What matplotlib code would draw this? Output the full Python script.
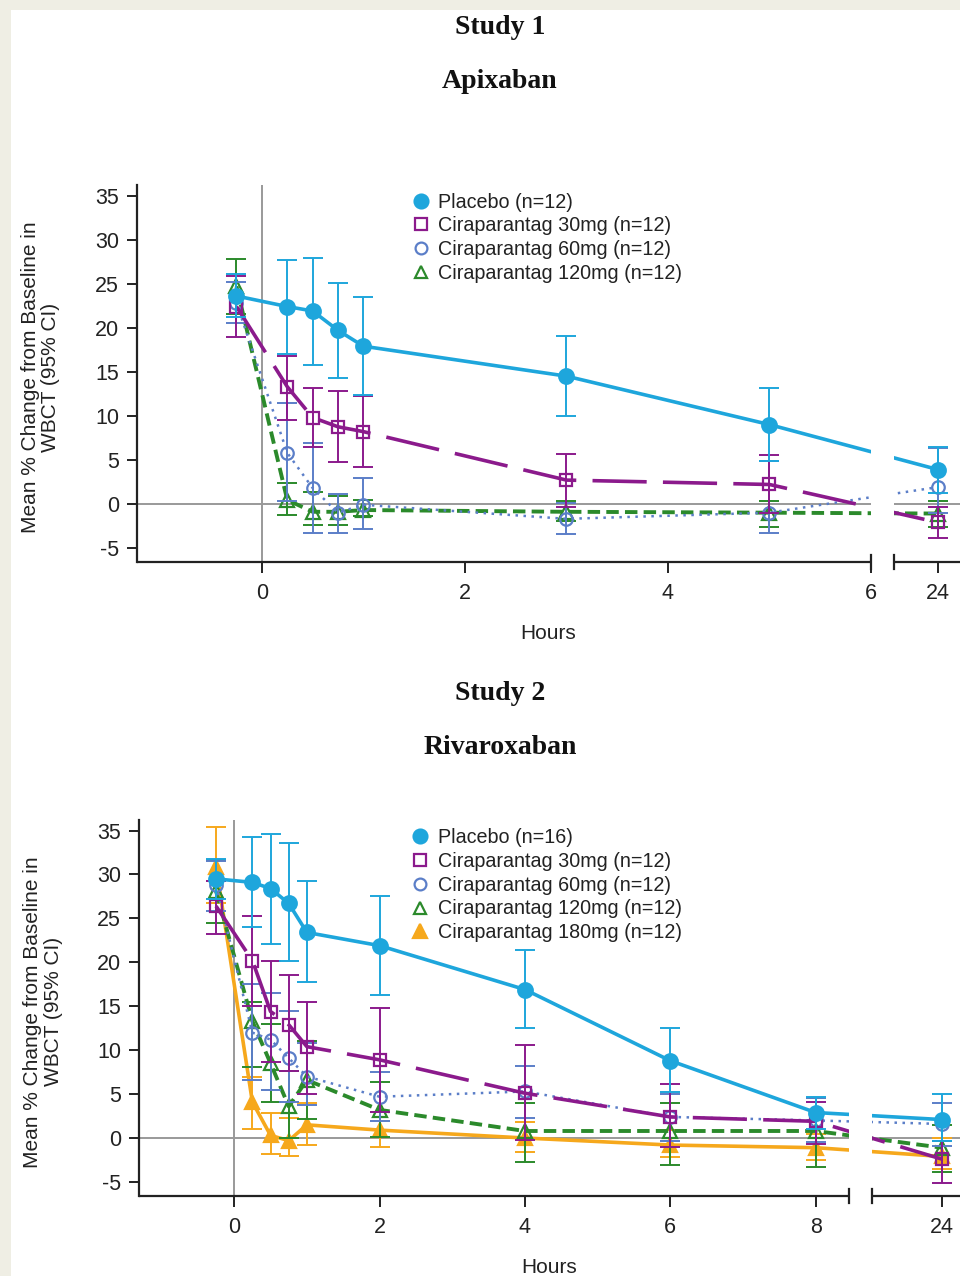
import numpy as np
import matplotlib
matplotlib.use('Agg')
import matplotlib.pyplot as plt
from matplotlib.lines import Line2D
from matplotlib.patches import Rectangle

plt.rcParams['font.family'] = ['Liberation Sans', 'DejaVu Sans']
plt.rcParams['axes.unicode_minus'] = False

# colours of the groups
C_PLA = '#1ea6dc'
C_30 = '#8b1a8c'
C_60 = '#5b7ec8'
C_120 = '#2b8a2b'
C_180 = '#f6a81c'

# ---- Study 1, apixaban ----
t1 = [-0.25, 0.25, 0.5, 0.75, 1, 3, 5, 24]

pla1 = [23.6, 22.4, 21.9, 19.7, 17.9, 14.5, 9.0, 3.9]
pla1_lo = [21.2, 17.0, 15.8, 14.3, 12.4, 10.0, 4.9, 1.2]
pla1_hi = [26.1, 27.7, 27.9, 25.1, 23.5, 19.1, 13.2, 6.5]

c30_1 = [22.4, 13.3, 9.8, 8.75, 8.2, 2.7, 2.2, -2.1]
c30_1_lo = [19.0, 9.5, 6.5, 4.7, 4.2, -0.3, -1.0, -3.9]
c30_1_hi = [25.9, 16.8, 13.2, 12.8, 12.3, 5.7, 5.5, -0.3]

c60_1 = [22.8, 5.8, 1.8, -1.0, -0.1, -1.7, -1.0, 1.9]
c60_1_lo = [20.5, 0.3, -3.3, -3.3, -2.9, -3.4, -3.3, -1.0]
c60_1_hi = [25.2, 11.5, 6.9, 1.1, 2.9, 0.1, 4.9, 6.3]

c120_1 = [24.7, 0.45, -0.9, -0.9, -0.7, -0.9, -1.0, -1.1]
c120_1_lo = [21.5, -1.25, -2.4, -2.4, -1.4, -2.0, -2.6, -2.6]
c120_1_hi = [27.8, 2.4, 1.4, 0.9, 0.45, 0.3, 0.3, 0.3]

labels1 = ['Placebo (n=12)', 'Ciraparantag 30mg (n=12)',
           'Ciraparantag 60mg (n=12)', 'Ciraparantag 120mg (n=12)']

# ---- Study 2, rivaroxaban ----
t2 = [-0.25, 0.25, 0.5, 0.75, 1, 2, 4, 6, 8, 24]

pla2 = [29.5, 29.1, 28.4, 26.7, 23.4, 21.9, 16.9, 8.8, 2.9, 2.1]
pla2_lo = [27.2, 24.0, 22.1, 20.1, 17.8, 16.3, 12.5, 5.2, 1.0, -0.3]
pla2_hi = [31.8, 34.3, 34.6, 33.6, 29.2, 27.6, 21.4, 12.5, 4.7, 5.0]

c30_2 = [26.4, 20.2, 14.4, 12.9, 10.4, 8.9, 5.1, 2.4, 1.9, -2.4]
c30_2_lo = [23.2, 15.0, 8.7, 7.6, 5.0, 3.0, -0.2, -1.0, -0.7, -5.1]
c30_2_hi = [29.3, 25.3, 20.2, 18.5, 15.5, 14.8, 10.6, 6.2, 4.1, -0.3]

c60_2 = [28.8, 12.0, 11.2, 9.1, 7.0, 4.7, 5.3, 2.4, 2.0, 1.6]
c60_2_lo = [25.8, 6.6, 5.5, 4.1, 3.8, 1.9, 2.3, -0.3, -0.5, -0.9]
c60_2_hi = [31.5, 17.5, 16.5, 14.5, 10.8, 7.5, 8.2, 5.0, 4.5, 4.0]

c120_2 = [28.1, 13.3, 8.5, 3.6, 6.6, 3.2, 0.8, 0.8, 0.8, -1.1]
c120_2_lo = [24.5, 8.1, 4.1, 0.0, 2.2, 0.1, -2.7, -3.1, -3.3, -3.9]
c120_2_hi = [31.6, 15.5, 13.0, 7.6, 11.0, 6.4, 4.0, 4.0, 4.6, 1.5]

c180_2 = [30.9, 4.1, 0.3, -0.3, 1.5, 0.9, 0.0, -0.8, -1.1, -2.1]
c180_2_lo = [26.8, 1.0, -1.8, -2.1, -0.8, -1.0, -1.6, -2.2, -2.5, -3.5]
c180_2_hi = [35.4, 7.0, 2.8, 2.3, 4.0, 3.0, 1.8, 0.9, 0.5, 0.0]

labels2 = ['Placebo (n=16)', 'Ciraparantag 30mg (n=12)',
           'Ciraparantag 60mg (n=12)', 'Ciraparantag 120mg (n=12)',
           'Ciraparantag 180mg (n=12)']

# line / marker style for each group
STY = {
    'pla': dict(color=C_PLA, marker='o', mfc=C_PLA, ms=10.5, ls='-', lw=2.6),
    '30': dict(color=C_30, marker='s', mfc='none', ms=9, ls=(0, (15, 4.5)), lw=2.6),
    '60': dict(color=C_60, marker='o', mfc='none', ms=9, ls=(0, (1, 2.2)), lw=1.8),
    '120': dict(color=C_120, marker='^', mfc='none', ms=9.5, ls=(0, (3.2, 1.6)), lw=2.8),
    '180': dict(color=C_180, marker='^', mfc=C_180, ms=10, ls='-', lw=2.6),
}


def broken_scale(lo, hi, gap):
    # squeeze the hours between lo and hi into a short gap
    def fwd(x):
        x = np.asarray(x, dtype=float)
        mid = lo + (x - lo) * gap / (hi - lo)
        return np.where(x <= lo, x, np.where(x >= hi, x - hi + lo + gap, mid))

    def inv(v):
        v = np.asarray(v, dtype=float)
        mid = lo + (v - lo) * (hi - lo) / gap
        return np.where(v <= lo, v, np.where(v >= lo + gap, v - lo - gap + hi, mid))
    return fwd, inv


def draw_group(ax, t, m, lo, hi, key, z):
    s = STY[key]
    m = np.array(m)
    err = [m - np.array(lo), np.array(hi) - m]
    ax.errorbar(t, m, yerr=err, fmt='none', ecolor=s['color'], elinewidth=1.4,
                capsize=7, capthick=1.4, zorder=z)
    ax.plot(t, m, color=s['color'], ls=s['ls'], lw=s['lw'], zorder=z + 0.1)
    ax.plot(t, m, ls='none', marker=s['marker'], ms=s['ms'], mfc=s['mfc'],
            mec=s['color'], mew=1.6, zorder=z + 0.2)


def setup_axes(ax, lo, hi, gap, xmin, xmax, xticks, height_px):
    fwd, inv = broken_scale(lo, hi, gap)
    ax.set_xscale('function', functions=(fwd, inv))
    ax.set_xlim(xmin, xmax)
    ax.set_ylim(-6.6, 36.2)
    ax.set_xticks(xticks)
    ax.set_xticklabels([str(x) for x in xticks])
    ax.set_yticks(np.arange(-5, 36, 5))
    ax.set_facecolor('none')
    for sp in ['top', 'right', 'bottom']:
        ax.spines[sp].set_visible(False)
    ax.spines['left'].set_color('#222222')
    ax.spines['left'].set_linewidth(1.6)
    ax.tick_params(axis='both', labelsize=15.5, colors='#222222', width=1.4,
                   direction='out')
    ax.tick_params(axis='y', length=7, pad=6)
    ax.tick_params(axis='x', length=8, pad=7)
    ax.axhline(0, color='#999999', lw=1.4, zorder=1)
    ax.axvline(0, color='#999999', lw=1.4, zorder=1)
    # the gap of the broken axis
    ax.axvspan(lo, hi, color='white', lw=0, zorder=8)
    trans = ax.get_xaxis_transform()
    ax.plot([xmin, lo], [0, 0], transform=trans, color='#222222', lw=1.6,
            clip_on=False, zorder=9, solid_capstyle='butt')
    ax.plot([hi, xmax], [0, 0], transform=trans, color='#222222', lw=1.6,
            clip_on=False, zorder=9, solid_capstyle='butt')
    dy = 7.0 / height_px
    for xb in (lo, hi):
        ax.plot([xb, xb], [-dy, dy], transform=trans, color='#222222', lw=1.6,
                clip_on=False, zorder=9)
    ax.set_ylabel('Mean % Change from Baseline in\nWBCT (95% CI)', fontsize=15,
                  color='#222222', linespacing=1.1)
    ax.set_xlabel('Hours', fontsize=15, color='#222222')


def add_legend(ax, keys, labels, x0, y0):
    handles = []
    for k in keys:
        s = STY[k]
        handles.append(Line2D([], [], ls='none', marker=s['marker'], ms=s['ms'] - 0.5,
                              mfc=s['mfc'], mec=s['color'], mew=1.6))
    leg = ax.legend(handles, labels, loc='upper left', bbox_to_anchor=(x0, y0),
                    frameon=False, fontsize=14.2, handlelength=0.8, handletextpad=0.5,
                    labelspacing=0.24, borderaxespad=0, borderpad=0)
    for txt in leg.get_texts():
        txt.set_color('#222222')
    leg.set_zorder(12)


fig = plt.figure(figsize=(9.6, 12.76), dpi=100, facecolor='#efeee4')
fig.patches.append(Rectangle((11 / 960, 0), 1, 1 - 10 / 1276, transform=fig.transFigure,
                             facecolor='white', edgecolor='none', zorder=-5))

W, H = 960.0, 1276.0

# top panel
ax1 = fig.add_axes([137 / W, 1 - 562 / H, 1 - 137 / W, 377 / H])
setup_axes(ax1, 6.0, 23.57, 0.227, -1.23, 24.22, [0, 2, 4, 6, 24], 377)
draw_group(ax1, t1, c120_1, c120_1_lo, c120_1_hi, '120', 3)
draw_group(ax1, t1, c60_1, c60_1_lo, c60_1_hi, '60', 3.5)
draw_group(ax1, t1, c30_1, c30_1_lo, c30_1_hi, '30', 4)
draw_group(ax1, t1, pla1, pla1_lo, pla1_hi, 'pla', 4.5)
add_legend(ax1, ['pla', '30', '60', '120'], labels1, 0.335, 0.98)
ax1.yaxis.set_label_coords(-0.093, 0.49)
ax1.xaxis.set_label_coords(0.5, -0.165)

# bottom panel
ax2 = fig.add_axes([139 / W, 1 - 1196 / H, 1 - 139 / W, 376 / H])
setup_axes(ax2, 8.46, 23.04, 0.316, -1.31, 24.25, [0, 2, 4, 6, 8, 24], 376)
draw_group(ax2, t2, c180_2, c180_2_lo, c180_2_hi, '180', 2.5)
draw_group(ax2, t2, c120_2, c120_2_lo, c120_2_hi, '120', 3)
draw_group(ax2, t2, c60_2, c60_2_lo, c60_2_hi, '60', 3.5)
draw_group(ax2, t2, c30_2, c30_2_lo, c30_2_hi, '30', 4)
draw_group(ax2, t2, pla2, pla2_lo, pla2_hi, 'pla', 4.5)
add_legend(ax2, ['pla', '30', '60', '120', '180'], labels2, 0.333, 0.978)
ax2.yaxis.set_label_coords(-0.093, 0.49)
ax2.xaxis.set_label_coords(0.5, -0.165)

# titles
serif = dict(family=['Liberation Serif', 'DejaVu Serif'], weight='bold', size=20,
             ha='center', va='center', color='#111111')
fig.text(500 / W, 1 - 27 / H, 'Study 1', **serif)
fig.text(500 / W, 1 - 82 / H, 'Apixaban', **serif)
fig.text(500 / W, 1 - 693 / H, 'Study 2', **serif)
fig.text(500 / W, 1 - 747 / H, 'Rivaroxaban', **serif)

fig.savefig('out.png', dpi=100, facecolor=fig.get_facecolor())
